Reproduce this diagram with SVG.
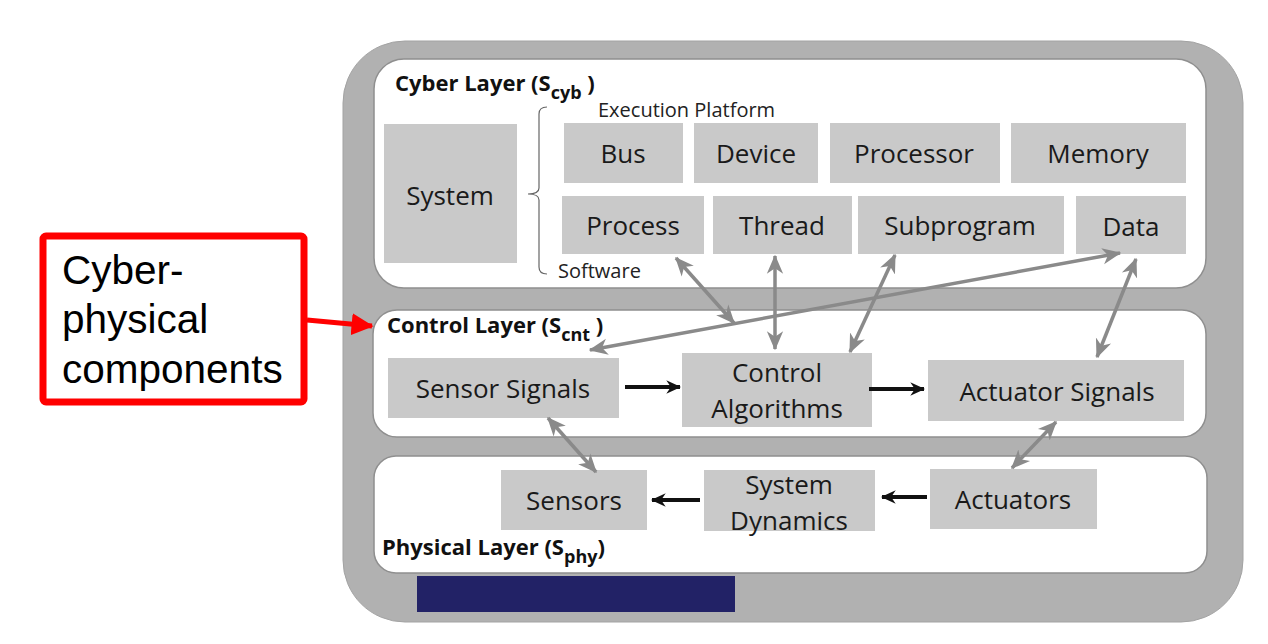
<svg xmlns="http://www.w3.org/2000/svg" width="1268" height="644" viewBox="0 0 1268 644">
<style>
.layer{fill:#ffffff;stroke:#8f8f8f;stroke-width:1.5}
.box{fill:#c9c9c9}
.lbl{font-family:"Open Sans","DejaVu Sans",sans-serif;font-size:26px;fill:#1a1a1a;text-anchor:middle}
.ttl{font-family:"Open Sans","DejaVu Sans",sans-serif;font-size:22px;font-weight:bold;fill:#111}
.sub{font-size:18px}
.small{font-family:"Open Sans","DejaVu Sans",sans-serif;font-size:20px;fill:#222}
.garrow{stroke:#8a8a8a;stroke-width:3.5;fill:none;marker-start:url(#ga);marker-end:url(#ga)}
.barrow{stroke:#111;stroke-width:4;fill:none;marker-end:url(#ba)}
.call{font-family:"Liberation Sans",Arial,sans-serif;font-size:40.5px;fill:#000}
</style>
<defs>
<marker id="ga" viewBox="0 0 14 14" refX="13" refY="7" markerWidth="19" markerHeight="19" markerUnits="userSpaceOnUse" orient="auto-start-reverse">
<path d="M0,1 L14,7 L0,13 L4,7 z" fill="#8a8a8a"/>
</marker>
<marker id="ba" viewBox="0 0 14 14" refX="13" refY="7" markerWidth="16" markerHeight="16" markerUnits="userSpaceOnUse" orient="auto">
<path d="M1,1 L14,7 L1,13 L5,7 z" fill="#111"/>
</marker>
<marker id="ra" viewBox="0 0 14 14" refX="13" refY="7" markerWidth="22" markerHeight="22" markerUnits="userSpaceOnUse" orient="auto">
<path d="M0,0 L14,7 L0,14 z" fill="#ff0000"/>
</marker>
</defs>
<rect width="1268" height="644" fill="#ffffff"/>
<g id="frame">
<rect x="343" y="41" width="900" height="581" rx="62" fill="#b1b1b1" stroke="#a3a3a3" stroke-width="1"/>
<rect x="417" y="576" width="318" height="36" fill="#222266"/>
</g>
<g id="cyber-layer">
<rect class="layer" x="374" y="59" width="832" height="229" rx="30"/>
<text class="ttl" x="395" y="91">Cyber Layer (S<tspan class="sub" dy="8">cyb</tspan><tspan dy="-8"> )</tspan></text>
<text class="small" x="598" y="117">Execution Platform</text>
<text class="small" x="558" y="278">Software</text>
<path d="M547,107 Q539,107 539,114 L539,188 Q539,194 528,194 Q539,194 539,200 L539,267 Q539,274 547,274" fill="none" stroke="#666" stroke-width="1.2"/>
</g>
<g id="system"><rect class="box" x="384" y="124" width="133" height="139"/><text class="lbl" x="450" y="205">System</text></g>
<g id="bus"><rect class="box" x="564" y="123" width="119" height="60"/><text class="lbl" x="623" y="163">Bus</text></g>
<g id="device"><rect class="box" x="694" y="123" width="124" height="60"/><text class="lbl" x="756" y="163">Device</text></g>
<g id="processor"><rect class="box" x="830" y="123" width="170" height="60"/><text class="lbl" x="914" y="163">Processor</text></g>
<g id="memory"><rect class="box" x="1011" y="123" width="175" height="60"/><text class="lbl" x="1098" y="163">Memory</text></g>
<g id="process"><rect class="box" x="562" y="196" width="142" height="58"/><text class="lbl" x="633" y="235">Process</text></g>
<g id="thread"><rect class="box" x="713" y="196" width="139" height="58"/><text class="lbl" x="782" y="235">Thread</text></g>
<g id="subprogram"><rect class="box" x="858" y="196" width="206" height="58"/><text class="lbl" x="960" y="235">Subprogram</text></g>
<g id="data"><rect class="box" x="1076" y="196" width="110" height="58"/><text class="lbl" x="1131" y="236">Data</text></g>
<g id="control-layer">
<rect class="layer" x="373" y="310" width="833" height="127" rx="24"/>
<text class="ttl" x="387" y="333">Control Layer (S<tspan class="sub" dy="8">cnt</tspan><tspan dy="-8"> )</tspan></text>
</g>
<g id="sensor-signals"><rect class="box" x="388" y="358" width="231" height="60"/><text class="lbl" x="503" y="398">Sensor Signals</text></g>
<g id="control-algorithms"><rect class="box" x="682" y="353" width="190" height="74"/><text class="lbl" x="777" y="382">Control</text><text class="lbl" x="777" y="418">Algorithms</text></g>
<g id="actuator-signals"><rect class="box" x="928" y="360" width="256" height="61"/><text class="lbl" x="1057" y="401">Actuator Signals</text></g>
<g id="physical-layer">
<rect class="layer" x="374" y="456" width="833" height="117" rx="22"/>
<text class="ttl" x="382" y="555">Physical Layer (S<tspan class="sub" dy="8">phy</tspan><tspan dy="-8">)</tspan></text>
</g>
<g id="sensors"><rect class="box" x="501" y="470" width="146" height="60"/><text class="lbl" x="574" y="510">Sensors</text></g>
<g id="system-dynamics"><rect class="box" x="704" y="470" width="171" height="61"/><text class="lbl" x="789" y="494">System</text><text class="lbl" x="789" y="530">Dynamics</text></g>
<g id="actuators"><rect class="box" x="930" y="469" width="167" height="60"/><text class="lbl" x="1013" y="509">Actuators</text></g>
<g id="callout">
<rect x="43" y="236" width="261" height="166" rx="3" fill="#ffffff" stroke="#ff0000" stroke-width="7"/>
<text class="call" x="62" y="284">Cyber-</text>
<text class="call" x="62" y="333">physical</text>
<text class="call" x="62" y="383">components</text>
</g>
<g id="connectors">
<line class="garrow" x1="676" y1="258" x2="734" y2="323"/>
<line class="garrow" x1="775" y1="256" x2="775" y2="349"/>
<line class="garrow" x1="895" y1="255" x2="850" y2="352"/>
<line class="garrow" x1="1120" y1="253" x2="590" y2="350"/>
<line class="garrow" x1="1136" y1="259" x2="1097" y2="357"/>
<line class="garrow" x1="548" y1="418" x2="596" y2="472"/>
<line class="garrow" x1="1056" y1="422" x2="1012" y2="468"/>
<line class="barrow" x1="625" y1="387" x2="680" y2="387"/>
<line class="barrow" x1="869" y1="389" x2="924" y2="389"/>
<line class="barrow" x1="700" y1="500" x2="652" y2="500"/>
<line class="barrow" x1="927" y1="497" x2="882" y2="497"/>
<line x1="307" y1="320" x2="372" y2="326" stroke="#ff0000" stroke-width="5" marker-end="url(#ra)"/>
</g>
</svg>
